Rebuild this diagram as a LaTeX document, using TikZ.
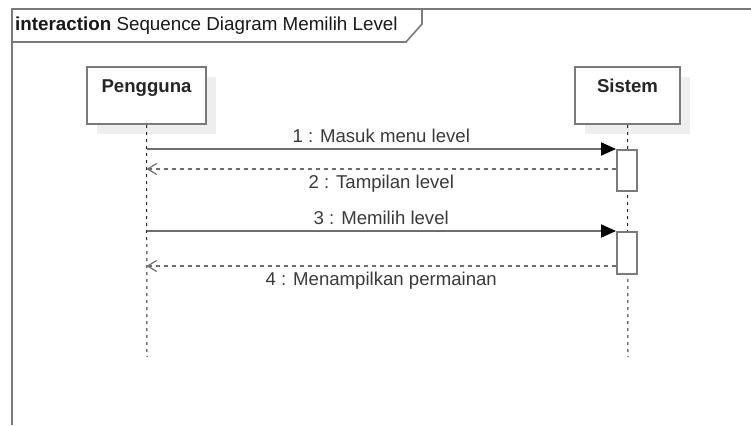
\documentclass[tikz,border=0pt]{standalone}
\usepackage{fontspec}
\setmainfont{Liberation Sans}
\usetikzlibrary{arrows.meta,shadows}
\definecolor{edge}{HTML}{7A7A7A}
\definecolor{shade}{HTML}{EEEEEE}
\definecolor{ink}{HTML}{3A3A3A}
\definecolor{wire}{HTML}{6E6E6E}
\begin{document}
\begin{tikzpicture}[x=1pt,y=-1pt,
  frameline/.style={draw=edge,line width=1.6pt},
  actor/.style={draw=edge,line width=2pt,fill=white,rectangle,
    inner xsep=4pt,inner ysep=11.5pt,text height=13.5pt,text depth=20pt,
    font=\fontsize{18.6}{21}\selectfont\bfseries,text=black!85,
    general shadow={fill=shade,shadow xshift=10pt,shadow yshift=-10pt}},
  lifeline/.style={draw=black!85,line width=1pt,dash pattern=on 3pt off 4pt},
  activation/.style={draw=edge,line width=2pt,fill=white,rectangle,
    minimum width=20pt,inner sep=0pt},
  msg/.style={draw=wire,line width=2pt,-{Triangle[length=15pt,width=13pt,color=black]}},
  reply/.style={draw=wire,line width=1.5pt,dash pattern=on 4pt off 4pt,
    -{Straight Barb[length=9pt,width=11pt,line width=1.2pt]}},
  msglabel/.style={text=ink,font=\fontsize{18.6}{21}\selectfont,inner sep=2pt}
]
\useasboundingbox (0,0) rectangle (751,425);

% interaction frame and its name tab
\draw[frameline] (12,425) -- (12,9) -- (751,9);
\draw[frameline] (12,42) -- (406,42) -- (422,24) -- (422,9);
\node[anchor=west,text=black!90,font=\fontsize{18.8}{21}\selectfont,inner sep=0pt]
  (title) at (15,25.5) {\textbf{interaction} Sequence Diagram Memilih Level};

% participants
\node[actor,minimum width=119pt,minimum height=57pt] (pengguna) at (146.5,95.5) {Pengguna};
\node[actor,minimum width=105pt,minimum height=57pt] (sistem) at (627.5,95.5) {Sistem};

% lifelines
\coordinate (pend) at (147,357);
\coordinate (send) at (628,357);
\draw[lifeline] (pengguna.south) -- (pend);
\draw[lifeline] (sistem.south) -- (send);

% activation bars
\node[activation,minimum height=41pt] (act1) at (627,170.5) {};
\node[activation,minimum height=42pt] (act2) at (627,253) {};

% reply anchor points on the activation bars
\coordinate (r2) at ([yshift=1.5pt]act1.west);
\coordinate (r4) at ([yshift=9pt]act2.south west);

% messages
\draw[msg] (pengguna.south |- act1.north west) -- (act1.north west)
  node[msglabel,midway,above=3pt] (m1) {1 : Masuk menu level};
\draw[reply] (r2) -- (pengguna.south |- r2)
  node[msglabel,midway,below=3.5pt] (m2) {2 : Tampilan level};
\draw[msg] (pengguna.south |- act2.north west) -- (act2.north west)
  node[msglabel,midway,above=3pt] (m3) {3 : Memilih level};
\draw[reply] (r4) -- (pengguna.south |- r4)
  node[msglabel,midway,below=3.5pt] (m4) {4 : Menampilkan permainan};
\end{tikzpicture}
\end{document}
